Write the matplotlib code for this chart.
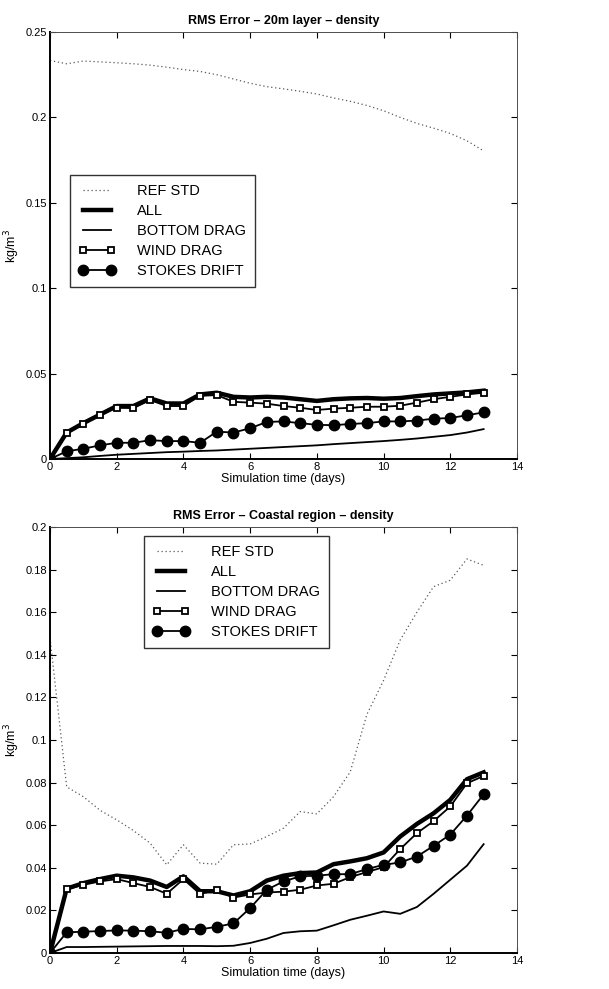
import numpy as np
import matplotlib
matplotlib.use("agg")
import matplotlib.pyplot as plt
from matplotlib.ticker import FuncFormatter

plt.rcParams['font.family'] = ['Liberation Sans', 'DejaVu Sans']

# simulation time (days), every half day
days = np.arange(0, 13.5, 0.5)

labels = ["REF STD", "ALL", "BOTTOM DRAG", "WIND DRAG", "STOKES DRIFT"]

# --- 20m layer ---
top_ref = [0.2333, 0.2314, 0.233, 0.2325, 0.232, 0.2314, 0.2306, 0.2294, 0.228,
           0.2269, 0.225, 0.2225, 0.220, 0.218, 0.2167, 0.2153, 0.2137, 0.2114,
           0.2094, 0.207, 0.2039, 0.200, 0.1965, 0.1937, 0.1906, 0.1863, 0.1804]
top_all = [0, 0.0155, 0.021, 0.026, 0.031, 0.031, 0.0355, 0.0325, 0.0325, 0.0378,
           0.0388, 0.0364, 0.036, 0.0364, 0.036, 0.035, 0.034, 0.035, 0.0355,
           0.0357, 0.0353, 0.0357, 0.0368, 0.0378, 0.0384, 0.039, 0.040]
top_bottom = [0, 0.0005, 0.001, 0.0018, 0.0025, 0.003, 0.0035, 0.004, 0.0043,
              0.0047, 0.005, 0.0055, 0.006, 0.0065, 0.007, 0.0075, 0.008, 0.0087,
              0.0093, 0.0099, 0.0105, 0.0112, 0.012, 0.013, 0.014, 0.0155, 0.0175]
top_wind = [0, 0.015, 0.0205, 0.0258, 0.030, 0.0298, 0.0345, 0.031, 0.031, 0.037,
            0.0374, 0.0335, 0.033, 0.0324, 0.031, 0.030, 0.0287, 0.0295, 0.030,
            0.0306, 0.0306, 0.0312, 0.033, 0.035, 0.0364, 0.0378, 0.0388]
top_stokes = [0, 0.0045, 0.006, 0.008, 0.0095, 0.0095, 0.011, 0.0105, 0.0105,
              0.0095, 0.016, 0.0155, 0.018, 0.0217, 0.022, 0.021, 0.020, 0.0198,
              0.0205, 0.021, 0.022, 0.022, 0.0225, 0.0236, 0.024, 0.0256, 0.0273]

# --- coastal region ---
bot_ref = [0.148, 0.078, 0.0734, 0.067, 0.0625, 0.0575, 0.0516, 0.0414, 0.0508,
           0.0422, 0.0417, 0.0508, 0.0512, 0.0547, 0.0586, 0.0664, 0.0653, 0.0734,
           0.085, 0.112, 0.128, 0.147, 0.160, 0.172, 0.175, 0.185, 0.182]
bot_all = [0, 0.0302, 0.0328, 0.0347, 0.0363, 0.0355, 0.034, 0.031, 0.036, 0.029,
           0.029, 0.027, 0.029, 0.034, 0.0363, 0.0375, 0.0378, 0.0417, 0.043,
           0.0445, 0.0472, 0.0547, 0.0606, 0.0656, 0.0719, 0.0816, 0.0848]
bot_bottom = [0, 0.0028, 0.0028, 0.0029, 0.003, 0.0031, 0.0032, 0.0033, 0.0033,
              0.0033, 0.0032, 0.0034, 0.0047, 0.0067, 0.0094, 0.0102, 0.0105,
              0.013, 0.0156, 0.0175, 0.0195, 0.0184, 0.0216, 0.0278, 0.0344,
              0.041, 0.0511]
bot_wind = [0, 0.030, 0.032, 0.0336, 0.0347, 0.0328, 0.031, 0.0278, 0.0347, 0.0277,
            0.0297, 0.026, 0.0275, 0.0284, 0.0288, 0.0297, 0.0317, 0.0325, 0.0356,
            0.038, 0.0403, 0.0488, 0.0563, 0.0619, 0.0688, 0.0797, 0.0831]
bot_stokes = [0, 0.0097, 0.010, 0.0103, 0.0106, 0.0105, 0.0102, 0.0095, 0.0113,
              0.0111, 0.0123, 0.0139, 0.0211, 0.0297, 0.0336, 0.036, 0.0363, 0.037,
              0.037, 0.0394, 0.0414, 0.0425, 0.0453, 0.0503, 0.0556, 0.0645, 0.0745]

W, H = 609, 989
fig = plt.figure(figsize=(W / 100, H / 100), dpi=100)


def panel(rect, title, ymax, ystep, ref, al, bd, wd, sd, leg_xy):
    ax = fig.add_axes(rect)
    ax.plot(days, ref, color='0.35', lw=0.9, ls=(0, (1, 2.2)), label=labels[0])
    ax.plot(days, al, color='k', lw=3.2, label=labels[1])
    ax.plot(days, bd, color='k', lw=1.3, label=labels[2])
    ax.plot(days, wd, color='k', lw=1.3, marker='s', ms=5, mfc='white',
            mec='k', mew=1.3, label=labels[3])
    ax.plot(days, sd, color='k', lw=1.3, marker='o', ms=7.5, mfc='k',
            mec='k', label=labels[4])
    ax.set_xlim(0, 14)
    ax.set_ylim(0, ymax)
    ax.set_xticks(np.arange(0, 15, 2))
    ax.set_yticks(np.arange(0, ymax + ystep / 2, ystep))
    ax.yaxis.set_major_formatter(FuncFormatter(lambda v, p: "%g" % round(v, 4)))
    ax.tick_params(direction='in', top=True, right=True, length=4, width=0.8,
                   labelsize=8, pad=2)
    for s in ['top', 'right']:
        ax.spines[s].set_linewidth(0.7)
        ax.spines[s].set_color('0.3')
    for s in ['left', 'bottom']:
        ax.spines[s].set_linewidth(1.4)
    ax.set_title(title, fontsize=9, fontweight='bold', pad=6)
    ax.set_xlabel("Simulation time (days)", fontsize=9, labelpad=1)
    ax.set_ylabel("kg/m$^3$", fontsize=9)
    ax.yaxis.set_label_coords(-28 / 467, 0.5)
    leg = ax.legend(loc='upper left', bbox_to_anchor=(leg_xy[0] / W, 1 - leg_xy[1] / H),
                    bbox_transform=fig.transFigure, borderaxespad=0, numpoints=2,
                    fontsize=10.5, frameon=True, fancybox=False, edgecolor='k',
                    handlelength=2.5, handletextpad=1.5, labelspacing=0.42,
                    borderpad=0.6)
    leg.get_frame().set_linewidth(1.0)
    return ax


panel([50 / W, 1 - 459 / H, 467 / W, 427 / H], "RMS Error \u2013 20m layer \u2013 density",
      0.25, 0.05, top_ref, top_all, top_bottom, top_wind, top_stokes, (70, 175))
panel([50 / W, 1 - 953 / H, 467 / W, 426 / H], "RMS Error \u2013 Coastal region \u2013 density",
      0.2, 0.02, bot_ref, bot_all, bot_bottom, bot_wind, bot_stokes, (144, 536))

fig.savefig("out.png", dpi=100)
